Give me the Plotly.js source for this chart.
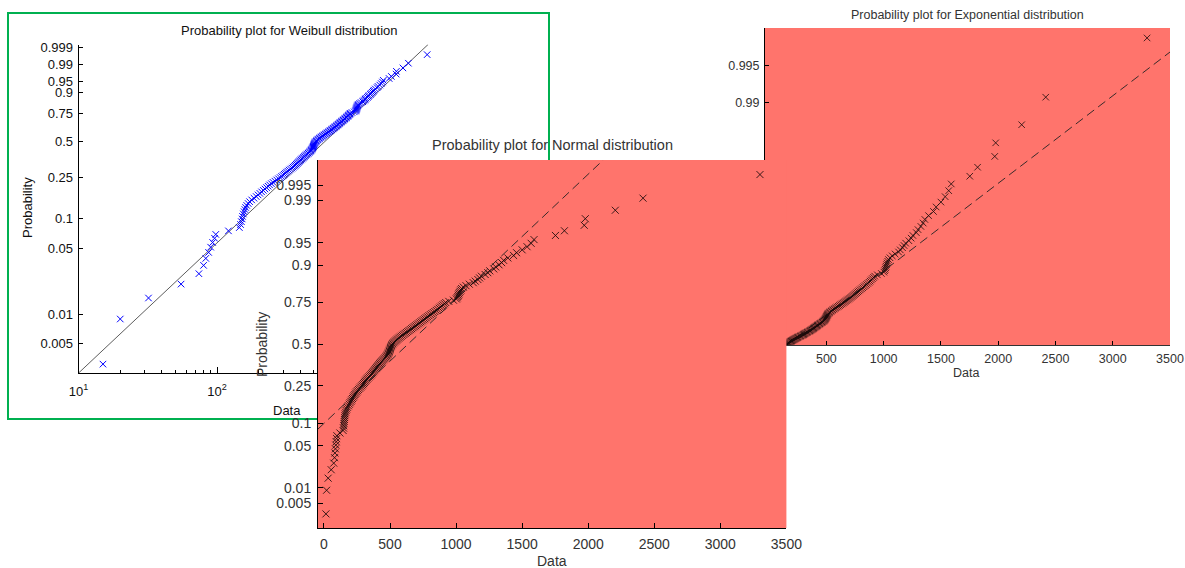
<!DOCTYPE html>
<html><head><meta charset="utf-8">
<script src="https://cdn.plot.ly/plotly-3.0.1.min.js"></script>
<style>html,body{margin:0;padding:0;background:#fff}#chart{width:1185px;height:568px}</style>
</head><body><div id="chart"></div>
<script>
const dataValues = [
  15, 20, 32, 55, 74, 80, 83, 87, 90, 93, 96, 98, 121, 145,
  148, 150, 152, 153, 155, 157, 159, 161, 164, 168,
  172, 178, 185, 192, 198, 204, 210, 216, 222, 228, 234,
  240, 247, 254, 262, 270, 278, 286, 293, 300, 306,
  312, 318, 325, 332, 340, 348, 355, 362, 368, 374, 380, 386, 392, 398, 404,
  410, 416, 422, 428, 435, 442, 449, 456, 463, 470,
  475, 480, 484, 488, 491, 494, 497, 500, 502, 505, 508, 511, 515, 520, 526,
  533, 541, 549, 557, 566, 575, 584, 594, 604, 614, 624, 634, 644, 654, 664,
  674, 684, 694, 704, 714, 724, 734, 744, 754, 764, 774, 784,
  795, 806, 817, 828, 839, 850, 861, 872, 882, 892, 902, 912, 922,
  945, 980, 1002, 1008, 1013, 1017, 1021, 1025, 1030, 1036,
  1042, 1055, 1075, 1100, 1130, 1145, 1165, 1178, 1192, 1220,
  1240, 1255, 1285, 1300, 1325, 1345, 1360, 1392, 1435, 1458, 1500, 1537, 1568,
  1590, 1752, 1820, 1970, 1978, 2205, 2415, 3300
];

// Probability tick labels of each plot
const weibullTickP = [0.005, 0.01, 0.05, 0.1, 0.25, 0.5, 0.75, 0.9, 0.95, 0.99, 0.999];
const normalTickP  = [0.005, 0.01, 0.05, 0.1, 0.25, 0.5, 0.75, 0.9, 0.95, 0.99, 0.995];
const expTickP     = [0.1, 0.25, 0.5, 0.75, 0.9, 0.95, 0.99, 0.995];
const dataTicks    = [0, 500, 1000, 1500, 2000, 2500, 3000, 3500];
const weibullXTicks = [10, 100, 1000, 10000];
const weibullXTickText = ['10<sup>1</sup>', '10<sup>2</sup>', '10<sup>3</sup>', '10<sup>4</sup>'];
const weibullXMinor = [20,30,40,50,60,70,80,90,200,300,400,500,600,700,800,900,2000,3000,4000,5000,6000,7000,8000,9000];

// Reference lines (end points: data value, probability)
const weibullRefX = [10, 3350];   const weibullRefP = [0.002425, 0.99941];
const normalRefX  = [-45, 2114];  const normalRefP  = [0.0849, 0.99857];
const expRefX     = [153, 3500];  const expRefP     = [0.1033, 0.99609];

// ---- probability-paper scales ----
function probit(p){
  const a=[-3.969683028665376e+01,2.209460984245205e+02,-2.759285104469687e+02,1.383577518672690e+02,-3.066479806614716e+01,2.506628277459239e+00];
  const b=[-5.447609879822406e+01,1.615858368580409e+02,-1.556989798598866e+02,6.680131188771972e+01,-1.328068155288572e+01];
  const c=[-7.784894002430293e-03,-3.223964580411365e-01,-2.400758277161838e+00,-2.549732539343734e+00,4.374664141464968e+00,2.938163982698783e+00];
  const d=[7.784695709041462e-03,3.224671290700398e-01,2.445134137142996e+00,3.754408661907416e+00];
  const pl=0.02425;
  if(p<pl){const q=Math.sqrt(-2*Math.log(p));return (((((c[0]*q+c[1])*q+c[2])*q+c[3])*q+c[4])*q+c[5])/((((d[0]*q+d[1])*q+d[2])*q+d[3])*q+1);}
  if(p>1-pl){const q=Math.sqrt(-2*Math.log(1-p));return -(((((c[0]*q+c[1])*q+c[2])*q+c[3])*q+c[4])*q+c[5])/((((d[0]*q+d[1])*q+d[2])*q+d[3])*q+1);}
  const q=p-0.5,r=q*q;
  return (((((a[0]*r+a[1])*r+a[2])*r+a[3])*r+a[4])*r+a[5])*q/(((((b[0]*r+b[1])*r+b[2])*r+b[3])*r+b[4])*r+1);
}
const weib = p => Math.log(-Math.log(1-p));
const expo = p => -Math.log(1-p);

// plotting positions (i-0.5)/n, as used by probability plots
const n = dataValues.length;
const pos = dataValues.map((v,i)=>(i+0.5)/n);

const W=1185, H=568;
const fx = px => px/W;
const fy = px => 1-px/H;

const RED = '#FF746C';
const mk = (color,size,w)=>({symbol:'x-thin', size:size, color:color, line:{color:color, width:w}});

const traces = [
  // Weibull
  {x:weibullRefX, y:weibullRefP.map(weib), xaxis:'x', yaxis:'y', mode:'lines', line:{color:'#333', width:0.8}, hoverinfo:'skip'},
  {x:dataValues, y:pos.map(weib), xaxis:'x', yaxis:'y', mode:'markers', marker:mk('#0000FF',6.5,1)},
  // Exponential
  {x:expRefX, y:expRefP.map(expo), xaxis:'x2', yaxis:'y2', mode:'lines', line:{color:'#222', width:0.9, dash:'9px,5px'}, hoverinfo:'skip'},
  {x:dataValues, y:pos.map(expo), xaxis:'x2', yaxis:'y2', mode:'markers', marker:mk('#1a0a0a',6.5,0.8)},
  // Normal
  {x:normalRefX, y:normalRefP.map(probit), xaxis:'x3', yaxis:'y3', mode:'lines', line:{color:'#222', width:0.9, dash:'9px,5px'}, hoverinfo:'skip'},
  {x:dataValues, y:pos.map(probit), xaxis:'x3', yaxis:'y3', mode:'markers', marker:mk('#1a0a0a',7,0.85)}
];

const FONT = 'Liberation Sans, Arial, sans-serif';
const baseAxis = {showgrid:false, zeroline:false, showline:true, linecolor:'#000', linewidth:1,
  ticks:'inside', ticklen:5, tickcolor:'#000', tickwidth:1, fixedrange:true};

const layout = {
  width:W, height:H, margin:{l:0,r:0,t:0,b:0},
  paper_bgcolor:'#fff', plot_bgcolor:RED, showlegend:false,
  font:{family:FONT, color:'#222'},
  xaxis: Object.assign({}, baseAxis, {type:'log', domain:[fx(78.6), fx(493.8)], range:[1,4], anchor:'y',
    tickmode:'array', tickvals:weibullXTicks, ticktext:weibullXTickText, ticklen:6,
    minor:{tickvals:weibullXMinor, ticks:'inside', ticklen:3, tickcolor:'#000'},
    tickfont:{size:13, color:'#111'}, ticklabelstandoff:6}),
  yaxis: Object.assign({}, baseAxis, {domain:[fy(373), fy(44.5)], range:[weib(0.002425), weib(0.99941)], anchor:'x',
    tickmode:'array', tickvals:weibullTickP.map(weib), ticktext:weibullTickP.map(String), ticklen:4,
    tickfont:{size:13, color:'#111'}, ticklabelstandoff:2}),
  xaxis2: Object.assign({}, baseAxis, {domain:[fx(765), fx(1170)], range:[-36,3500], anchor:'y2', linecolor:'#333',
    tickmode:'array', tickvals:dataTicks, ticktext:dataTicks.map(String), ticklen:4,
    tickfont:{size:12.5, color:'#333'}, ticklabelstandoff:2}),
  yaxis2: Object.assign({}, baseAxis, {domain:[fy(345), fy(28)], range:[0.109, 5.99], anchor:'x2',
    tickmode:'array', tickvals:expTickP.map(expo), ticktext:expTickP.map(String), ticklen:4,
    tickfont:{size:12.5, color:'#333'}, ticklabelstandoff:2}),
  xaxis3: Object.assign({}, baseAxis, {domain:[fx(318), fx(786.4)], range:[-45,3500], anchor:'y3',
    tickmode:'array', tickvals:dataTicks, ticktext:dataTicks.map(String), ticklen:5,
    tickfont:{size:14, color:'#333'}, ticklabelstandoff:3}),
  yaxis3: Object.assign({}, baseAxis, {domain:[fy(528), fy(160)], range:[-2.975, 2.982], anchor:'x3',
    tickmode:'array', tickvals:normalTickP.map(probit), ticktext:normalTickP.map(String), ticklen:5,
    tickfont:{size:14, color:'#333'}, ticklabelstandoff:3}),
  shapes:[
    // green frame of the Weibull figure
    {type:'rect', xref:'paper', yref:'paper', x0:fx(8), x1:fx(549), y0:fy(419), y1:fy(13),
      line:{color:'#00B050', width:2}, fillcolor:'rgba(0,0,0,0)', layer:'below'},
    // white plotting area of the Weibull axes (slightly oversized to hide the red backdrop edge)
    {type:'rect', xref:'paper', yref:'paper', x0:fx(76), x1:fx(497), y0:fy(375), y1:fy(41),
      line:{width:0}, fillcolor:'#ffffff', layer:'below'}
  ],
  annotations:[
    {text:'Probability plot for Weibull distribution', x:fx(289), y:fy(31), font:{size:13, color:'#111'}},
    {text:'Probability', x:fx(28), y:fy(208), textangle:-90, font:{size:13, color:'#111'}},
    {text:'Data', x:fx(287), y:fy(410), font:{size:13, color:'#111'}},
    {text:'Probability plot for Exponential distribution', x:fx(968), y:fy(15), font:{size:12.5, color:'#333'}},
    {text:'Data', x:fx(966), y:fy(373), font:{size:12.5, color:'#333'}},
    {text:'Probability plot for Normal distribution', x:fx(552), y:fy(145), font:{size:14.5, color:'#333'}},
    {text:'Probability', x:fx(262), y:fy(345), textangle:-90, font:{size:14, color:'#333'}},
    {text:'Data', x:fx(552), y:fy(561), font:{size:14, color:'#333'}}
  ].map(a=>Object.assign({xref:'paper', yref:'paper', showarrow:false, xanchor:'center', yanchor:'middle'}, a,
     {font:Object.assign({family:FONT}, a.font)}))
};

Plotly.newPlot('chart', traces, layout, {displayModeBar:false, staticPlot:true});
</script>
</body></html>
